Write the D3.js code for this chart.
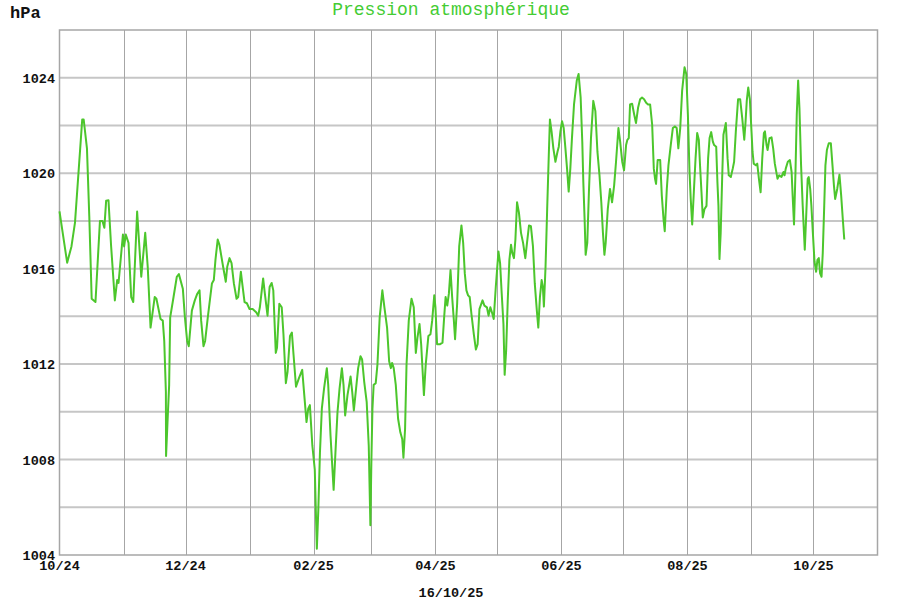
<!DOCTYPE html>
<html>
<head>
<meta charset="utf-8">
<script src="https://cdn.jsdelivr.net/npm/d3@7"></script>
<style>
  html, body { margin: 0; padding: 0; background: #fff; }
  svg { display: block; }
</style>
</head>
<body>
<svg id="chart" width="900" height="600"></svg>
<script>
// ---- Data ----
const startDate = "2024-10-01";      // day 0
const endDate = "2025-11-01";        // right edge of the axis
const title = "Pression atmosphérique";
const unitLabel = "hPa";
const dateLabel = "16/10/25";
const yTicksLabeled = [1004, 1008, 1012, 1016, 1020, 1024];
const xTickLabels = ["10/24", "12/24", "02/25", "04/25", "06/25", "08/25", "10/25"];

// days since 2024-10-01
const days = [
  0, 3.7, 5.8, 7.5, 11, 11.7, 13.3, 14.4, 15.6, 17.4, 19.6, 20.8, 21.7, 22.6, 23.7, 25, 26.8, 27.9, 28.6, 30.7,
  31.3, 32.1, 33.4, 34.7, 35.7, 37.6, 39.6, 41.5, 42.7, 44.1, 46.1, 46.9, 48.9, 50.0, 50.7, 51.5, 51.6, 52.3, 53.1, 53.6,
  55.2, 56.8, 57.8, 59.7, 60.7, 61.8, 62.6, 64.1, 65.5, 66.7, 67.8, 68.6, 69.7, 70.5, 71.8, 73.8, 74.7, 75.5, 76.6, 77.4,
  79.2, 80.5, 81.2, 82.3, 83.3, 84.4, 85.7, 86.5, 87.8, 88.6, 89.6, 90.7, 92, 93.5, 95.2, 96.2, 97.0, 98.6, 99.4, 100.7,
  101.7, 102.7, 103.5, 104.7, 105.3, 106.4, 107.6, 108.4, 109.6, 110.4, 111.6, 112.5, 113.3, 114.5, 115.9, 117.5, 118.5, 119.6, 120.4, 121.2,
  122.4, 123.6, 124.1, 124.6, 125.3, 126.1, 127.0, 128.1, 129.4, 130.1, 131.2, 132.7, 133.6, 134.6, 135.6, 136.7, 137.5, 138.3, 139.4, 140.9,
  141.7, 142.5, 143.6, 144.6, 145.7, 146.5, 147.5, 148.7, 149.7, 150.5, 151.0, 151.5, 152.1, 153.1, 153.9, 155.0, 156.3, 157.3, 158.6, 159.6,
  160.4, 161.0, 161.8, 162.8, 163.9, 165.0, 165.9, 166.5, 167.3, 168.0, 169.1, 170.4, 171.5, 172.5, 173.3, 174.3, 175.1, 176.4, 177.3, 178.6,
  179.6, 180.4, 181.4, 182.0, 182.8, 184.1, 185.4, 186.2, 186.9, 187.7, 188.5, 189.3, 190.1, 190.9, 191.5, 192.5, 193.5, 194.6, 195.4, 196.2,
  197.0, 197.8, 198.6, 199.4, 200.6, 201.6, 202.4, 203.3, 204.8, 205.7, 206.9, 207.7, 208.6, 209.6, 210.2, 211.2, 212.5, 213.3, 214.1, 214.9,
  215.5, 216.2, 217.0, 217.8, 218.6, 219.2, 220.0, 220.7, 221.5, 222.4, 223.4, 224.4, 225.5, 226.5, 227.3, 228.2, 229.2, 230.1, 231.1, 231.8,
  232.6, 233.4, 234.0, 234.5, 235.3, 236.1, 236.9, 237.4, 238.2, 239.1, 240.1, 241.1, 241.7, 242.5, 243.3, 244.1, 244.9, 245.7, 246.5, 247.3,
  248.1, 249.1, 250.4, 251.3, 252.3, 253.1, 253.6, 254.2, 254.7, 255.5, 256.3, 257.3, 258.4, 259.4, 260.4, 261.4, 262.3, 263.1, 263.8, 264.4,
  265.4, 266.5, 267.5, 268.5, 269.4, 270.6, 271.4, 272.4, 273.3, 274.3, 274.9, 275.6, 276.2, 277.2, 278.2, 279.1, 280.1, 281.1, 282.0, 283.0,
  284.0, 284.9, 285.9, 286.9, 287.7, 288.3, 288.8, 289.6, 290.8, 291.6, 292.4, 293.0, 294.0, 294.8, 295.9, 296.9, 297.9, 298.8, 299.6, 300.5,
  301.4, 302.6, 303.4, 304.2, 305.0, 305.6, 306.3, 307.1, 307.9, 308.7, 309.5, 310.1, 310.8, 311.4, 312.2, 313.2, 314.0, 314.7, 315.5, 316.3,
  316.9, 317.9, 318.5, 319.0, 319.5, 320.1, 320.8, 321.4, 322.6, 323.4, 324.0, 325.0, 325.9, 326.6, 327.4, 328.5, 329.5, 330.5, 331.5, 332.1,
  332.7, 333.4, 334.2, 335.0, 335.5, 336.1, 337.1, 337.8, 338.6, 339.4, 340.2, 341.0, 341.5, 342.3, 342.8, 343.7, 344.7, 345.5, 346.3, 347.6,
  348.4, 349.5, 350.5, 351.0, 351.6, 352.6, 353.6, 354.4, 354.9, 355.6, 356.3, 356.9, 357.6, 358.2, 359.0, 359.8, 360.8, 361.4, 362.2, 362.7,
  363.4, 364.0, 364.7, 365.5, 366.3, 366.9, 367.6, 368.2, 368.9, 369.5, 370.2, 370.8, 371.5, 372.4, 373.4, 374.2, 374.9, 375.5, 376.5, 377.6,
  378.4, 379.2, 379.9
];

// pressure in hPa
const pressure = [
  1018.4, 1016.25, 1016.93, 1017.93, 1022.25, 1022.25, 1021.04, 1018.2, 1014.74, 1014.6, 1018.0, 1018.0, 1017.71, 1018.85, 1018.87, 1016.93, 1014.67, 1015.52, 1015.4, 1017.43,
  1016.93, 1017.43, 1017.08, 1014.81, 1014.6, 1018.39, 1015.66, 1017.5, 1016.08, 1013.53, 1014.81, 1014.74, 1013.89, 1013.82, 1012.97, 1010.84, 1008.15, 1009.57, 1011.13, 1013.96,
  1014.81, 1015.66, 1015.77, 1015.16, 1013.96, 1012.97, 1012.75, 1014.24, 1014.67, 1014.95, 1015.09, 1013.82, 1012.75, 1012.97, 1013.96, 1015.38, 1015.52, 1016.37, 1017.22, 1017.0,
  1016.08, 1015.45, 1016.08, 1016.44, 1016.23, 1015.38, 1014.74, 1014.81, 1015.87, 1015.3, 1014.6, 1014.55, 1014.31, 1014.31, 1014.17, 1014.03, 1014.38, 1015.59, 1014.95, 1014.03,
  1015.23, 1015.4, 1015.09, 1012.47, 1012.68, 1014.53, 1014.38, 1013.25, 1011.2, 1011.69, 1013.18, 1013.32, 1012.4, 1011.05, 1011.41, 1011.76, 1010.7, 1009.57, 1010.13, 1010.28,
  1008.58, 1007.58, 1005.88, 1004.26, 1005.88, 1008.29, 1010.13, 1010.98, 1011.83, 1011.13, 1009.0, 1006.73, 1008.29, 1009.99, 1010.98, 1011.83, 1011.13, 1009.85, 1010.7, 1011.48,
  1010.84, 1010.06, 1010.98, 1011.83, 1012.33, 1012.19, 1011.27, 1010.42, 1008.58, 1005.25, 1008.0, 1010.13, 1011.13, 1011.2, 1011.98, 1013.96, 1015.09, 1014.38, 1013.53, 1012.12,
  1011.83, 1012.05, 1011.83, 1011.13, 1009.71, 1009.14, 1008.86, 1008.08, 1009.28, 1011.98, 1013.82, 1014.74, 1014.38, 1012.47, 1013.11, 1013.68, 1012.83, 1010.7, 1011.98, 1013.18,
  1013.25, 1013.82, 1014.88, 1014.38, 1012.83, 1012.83, 1012.9, 1013.96, 1014.81, 1014.45, 1014.95, 1015.94, 1014.81, 1013.82, 1013.04, 1014.53, 1016.93, 1017.81, 1017.08, 1015.8,
  1015.09, 1014.88, 1014.81, 1014.1, 1013.25, 1012.61, 1012.83, 1014.3, 1014.67, 1014.45, 1014.38, 1014.03, 1014.38, 1014.1, 1013.89, 1015.23, 1016.72, 1016.23, 1014.95, 1013.68,
  1011.55, 1012.54, 1014.67, 1016.37, 1017.0, 1016.65, 1016.44, 1017.22, 1018.78, 1018.35, 1017.5, 1017.08, 1016.44, 1017.22, 1017.81, 1017.78, 1016.93, 1015.38, 1014.24, 1013.53,
  1014.81, 1015.52, 1015.23, 1014.41, 1016.08, 1018.49, 1020.9, 1022.25, 1021.75, 1021.04, 1020.48, 1020.9, 1021.11, 1021.75, 1022.18, 1021.89, 1021.04, 1020.19, 1019.23, 1020.19,
  1021.47, 1022.88, 1023.88, 1024.16, 1023.17, 1021.32, 1019.63, 1018.07, 1016.58, 1017.08, 1019.2, 1021.47, 1023.03, 1022.6, 1020.9, 1019.91, 1018.78, 1017.5, 1016.58, 1017.08,
  1018.49, 1019.34, 1018.78, 1019.48, 1020.48, 1021.89, 1021.32, 1020.48, 1020.12, 1021.18, 1021.4, 1021.47, 1022.88, 1022.91, 1022.46, 1022.1, 1022.74, 1023.1, 1023.17, 1023.1,
  1022.95, 1022.88, 1022.88, 1022.03, 1020.19, 1019.77, 1019.55, 1020.55, 1020.55, 1019.06, 1018.07, 1017.57, 1019.34, 1020.33, 1021.18, 1021.89, 1021.96, 1021.89, 1021.04, 1021.89,
  1023.45, 1024.44, 1024.16, 1022.46, 1020.05, 1018.92, 1017.85, 1019.2, 1020.62, 1021.68, 1021.4, 1020.33, 1019.2, 1018.14, 1018.49, 1018.63, 1020.62, 1021.47, 1021.72, 1021.32,
  1021.18, 1021.11, 1019.63, 1018.63, 1016.4, 1017.5, 1019.77, 1021.61, 1022.1, 1020.62, 1019.91, 1019.84, 1020.19, 1020.48, 1021.75, 1023.1, 1023.1, 1022.32, 1021.4, 1022.1,
  1023.03, 1023.59, 1023.1, 1021.75, 1020.9, 1020.4, 1020.33, 1020.4, 1019.77, 1019.2, 1020.62, 1021.68, 1021.75, 1021.18, 1020.97, 1021.47, 1021.5, 1021.04, 1020.4, 1019.77,
  1019.91, 1019.84, 1020.05, 1019.91, 1020.19, 1020.48, 1020.55, 1020.05, 1019.06, 1017.85, 1020.05, 1022.46, 1023.88, 1022.74, 1020.33, 1018.63, 1016.79, 1018.07, 1019.77, 1019.84,
  1019.34, 1018.63, 1017.5, 1016.3, 1015.87, 1016.37, 1016.44, 1015.8, 1015.66, 1016.65, 1018.63, 1020.33, 1020.97, 1021.25, 1021.25, 1020.33, 1019.48, 1018.92, 1019.34, 1019.94,
  1019.06, 1018.07, 1017.22
];

// ---- Layout ----
const svg = d3.select("#chart");
const W = 900, H = 600;
const margin = { left: 59.5, right: 900 - 877.5, top: 30, bottom: 600 - 555 };
const t0 = d3.utcParse("%Y-%m-%d")(startDate);
const t1 = d3.utcParse("%Y-%m-%d")(endDate);

const x = d3.scaleUtc().domain([t0, t1]).range([margin.left, W - margin.right]);
const y = d3.scaleLinear().domain([1004, 1026]).range([H - margin.bottom, margin.top]);

const data = days.map((d, i) => ({ t: d3.utcHour.offset(t0, Math.round(d * 24)), v: pressure[i] }));

const mono = "'Liberation Mono', 'DejaVu Sans Mono', monospace";
const green = "#4cc62c";

// horizontal grid (every 2 hPa)
svg.append("g")
  .selectAll("line")
  .data(d3.range(1006, 1026, 2))
  .join("line")
  .attr("x1", margin.left).attr("x2", W - margin.right)
  .attr("y1", d => y(d)).attr("y2", d => y(d))
  .attr("stroke", "#c6c6c6").attr("stroke-width", 2);

// vertical grid (each month)
const months = d3.utcMonth.range(d3.utcMonth.offset(t0, 1), t1);
svg.append("g")
  .selectAll("line")
  .data(months)
  .join("line")
  .attr("x1", d => Math.round(x(d)) + 0.5).attr("x2", d => Math.round(x(d)) + 0.5)
  .attr("y1", margin.top).attr("y2", H - margin.bottom)
  .attr("stroke", "#a6a6a6").attr("stroke-width", 1);

// frame
svg.append("rect")
  .attr("x", margin.left).attr("y", margin.top)
  .attr("width", W - margin.left - margin.right)
  .attr("height", H - margin.top - margin.bottom)
  .attr("fill", "none").attr("stroke", "#a6a6a6").attr("stroke-width", 1.5);

// line
svg.append("path")
  .datum(data)
  .attr("fill", "none")
  .attr("stroke", green)
  .attr("stroke-width", 2)
  .attr("stroke-linejoin", "round")
  .attr("d", d3.line().x(d => x(d.t)).y(d => y(d.v)));

// y labels
svg.append("g")
  .selectAll("text")
  .data(yTicksLabeled)
  .join("text")
  .attr("x", 55).attr("y", d => y(d) + 5)
  .attr("text-anchor", "end")
  .attr("font-family", mono).attr("font-weight", "bold").attr("font-size", 13.5)
  .attr("fill", "#111")
  .text(d => d);

// x labels every 2 months, starting at the first month
const parseMY = d3.utcParse("%m/%y");
svg.append("g")
  .selectAll("text")
  .data(xTickLabels)
  .join("text")
  .attr("x", d => x(parseMY(d))).attr("y", 570)
  .attr("text-anchor", "middle")
  .attr("font-family", mono).attr("font-weight", "bold").attr("font-size", 13.5)
  .attr("fill", "#111")
  .text(d => d);

// unit, title, date
svg.append("text")
  .attr("x", 10).attr("y", 18)
  .attr("font-family", mono).attr("font-weight", "bold").attr("font-size", 17)
  .attr("fill", "#111").text(unitLabel);

svg.append("text")
  .attr("x", 451).attr("y", 15)
  .attr("text-anchor", "middle")
  .attr("font-family", mono).attr("font-size", 18)
  .attr("fill", "#44cc33").text(title);

svg.append("text")
  .attr("x", 451).attr("y", 597)
  .attr("text-anchor", "middle")
  .attr("font-family", mono).attr("font-weight", "bold").attr("font-size", 13.5)
  .attr("fill", "#111").text(dateLabel);
</script>
</body>
</html>
